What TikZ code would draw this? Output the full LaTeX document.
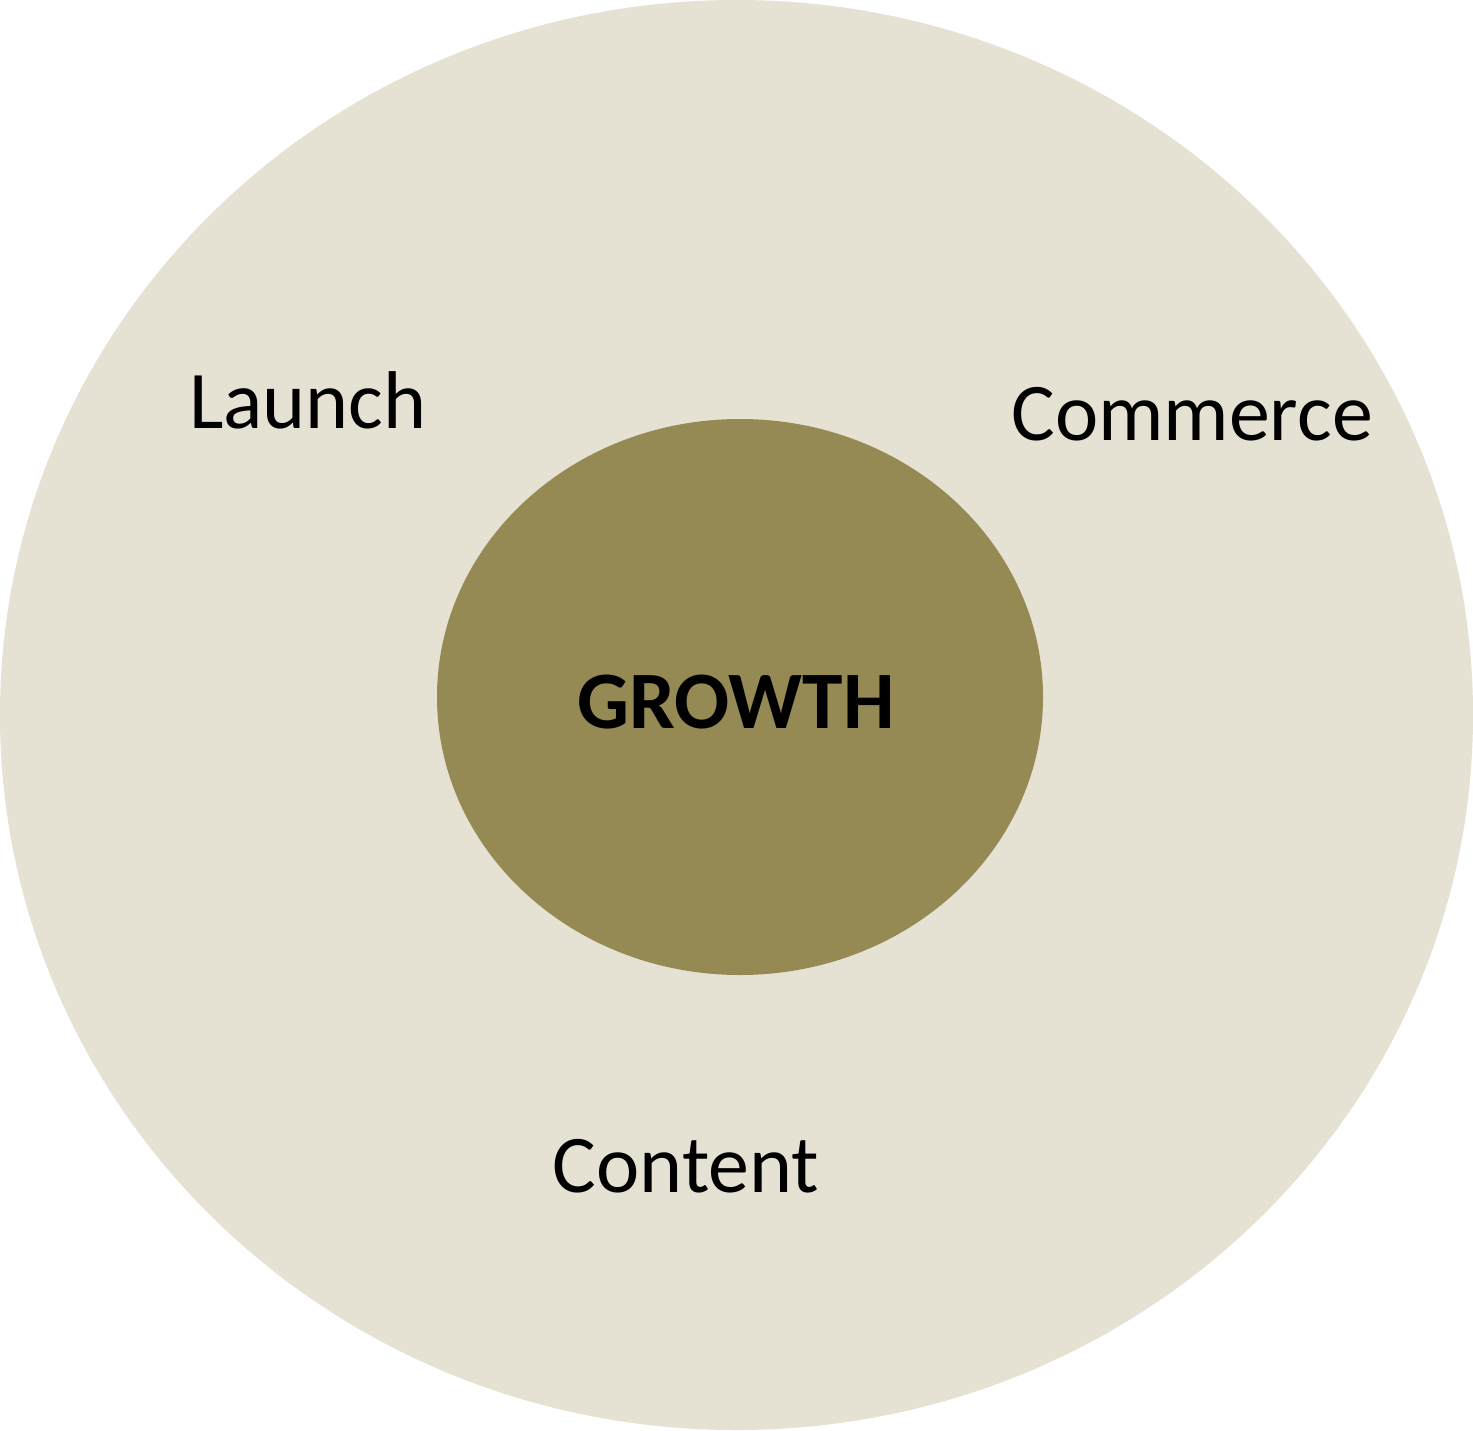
\documentclass[tikz,border=0pt]{standalone}
\usepackage{fontspec}
\setmainfont{Carlito}
\definecolor{outerfill}{HTML}{E5E1D3}
\definecolor{innerfill}{HTML}{958A54}
\begin{document}
\begin{tikzpicture}[x=0.01cm,y=-0.01cm,
  lbl/.style={anchor=base,inner sep=0pt,font=\fontsize{23.3}{28}\selectfont,text=black}]
\useasboundingbox (0,0) rectangle (1473,1430);
\fill[outerfill] (736.5,715) ellipse [x radius=736.5, y radius=715];
\fill[innerfill] (740,697) ellipse [x radius=303, y radius=278];
\node[lbl] (launch) at (308,428) {Launch};
\node[lbl] (commerce) at (1192,440) {Commerce};
\node[lbl] (content) at (686,1192) {Content};
\node[lbl,font=\fontsize{23.2}{28}\selectfont\bfseries] (growth) at (736,728) {GROWTH};
\end{tikzpicture}
\end{document}
